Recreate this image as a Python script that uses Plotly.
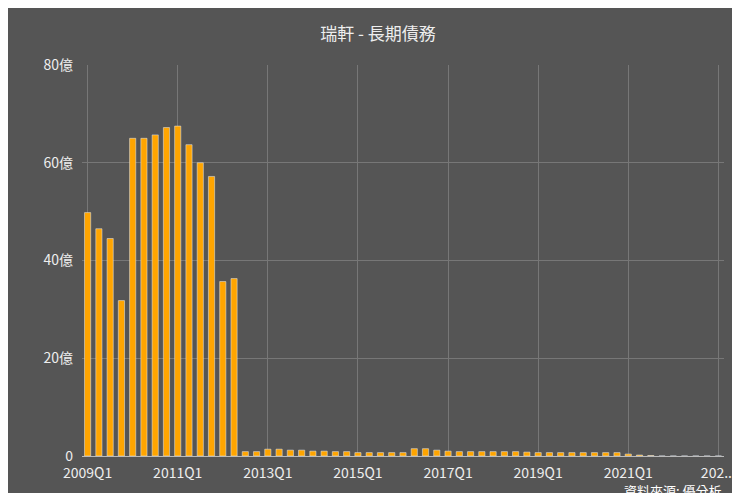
import plotly.graph_objects as go

quarters = [f"{y}Q{q}" for y in range(2009, 2024) for q in range(1, 5)][:57]
values = [49.8, 46.5, 44.5, 31.8, 65.0, 65.0, 65.7, 67.2, 67.5, 63.7, 60.0, 57.2,
          35.7, 36.3, 0.9, 0.9, 1.4, 1.4, 1.2, 1.2, 1.0, 1.0, 0.9, 0.9,
          0.7, 0.7, 0.7, 0.7, 0.7, 1.5, 1.5, 1.2, 1.0, 0.9, 0.9, 0.9,
          0.9, 0.9, 0.9, 0.8, 0.7, 0.7, 0.7, 0.7, 0.7, 0.7, 0.7, 0.7,
          0.4, 0.2, 0.1, 0, 0, 0, 0, 0, 0]
ytick_vals = [0, 20, 40, 60, 80]
ytick_text = ["0", "20億", "40億", "60億", "80億"]

fig = go.Figure(go.Bar(x=quarters, y=values, marker_color="#FFA500", width=0.55))
fig.update_layout(
    width=740, height=493, paper_bgcolor="#555555", plot_bgcolor="#555555",
    margin=dict(l=74, r=15, t=57, b=45),
    font=dict(family="Noto Sans CJK TC", color="#EEEEEE", size=13),
    title=dict(text="瑞軒 - 長期債務", x=0.5, y=0.96, font=dict(size=17, color="#EEEEEE")),
    showlegend=False, bargap=0.45,
    annotations=[dict(text="資料來源: 優分析", xref="paper", yref="paper", x=1.0, y=-0.06,
                      xanchor="right", yanchor="top", showarrow=False,
                      font=dict(size=13, color="#FFFFFF"))],
)
fig.update_xaxes(type="category", tickvals=quarters[::8], ticktext=[q if i < 7 else "202..." for i, q in enumerate(quarters[::8])],
                 showgrid=True, gridcolor="#777777", linecolor="#BBBBBB", showline=True, ticks="",
                 tickfont=dict(size=14), ticklabelstandoff=4)
fig.update_yaxes(range=[0, 80], tickvals=ytick_vals, ticktext=ytick_text,
                 gridcolor="#777777", zeroline=False, tickfont=dict(size=14), ticklabelstandoff=8)
fig.write_html("out.html")
